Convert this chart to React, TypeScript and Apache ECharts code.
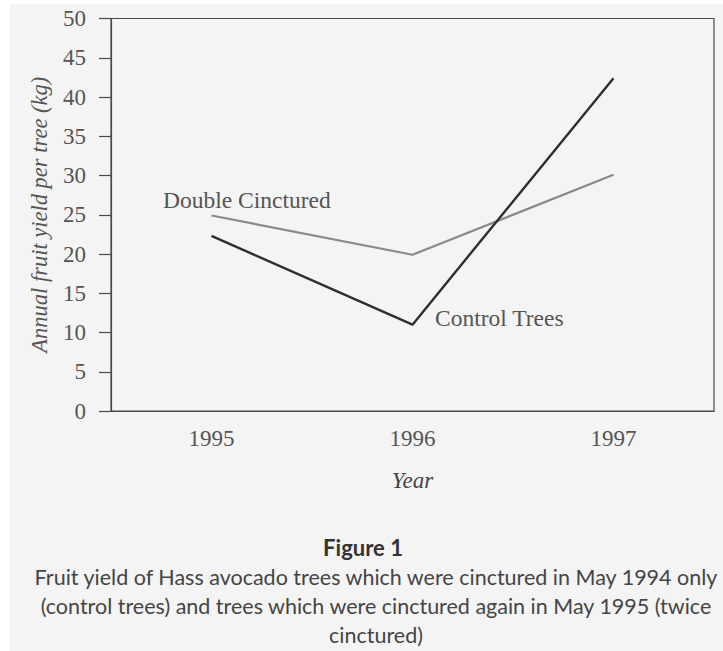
import React, { useEffect, useRef } from "react";
import * as echarts from "echarts";

const years = ["1995", "1996", "1997"];
const controlTrees = [22.3, 11.0, 42.4];
const doubleCinctured = [24.9, 19.9, 30.1];
const yTicks = { min: 0, max: 50, interval: 5 };
const captionTitle = "Figure 1";
const captionLines = [
  "Fruit yield of Hass avocado trees which were cinctured in May 1994 only",
  "(control trees) and trees which were cinctured again in May 1995 (twice",
  "cinctured)",
];

const SERIF = "'Liberation Serif', 'DejaVu Serif', serif";
const SANS = "Lato, 'Open Sans', sans-serif";

export default function App() {
  const ref = useRef<HTMLDivElement>(null);
  useEffect(() => {
    document.body.style.margin = "0";
    const chart = echarts.init(ref.current!, null, { renderer: "svg" });
    const axisColor = "#4a4a4a";
    chart.setOption({
      animation: false,
      backgroundColor: "#ffffff",
      grid: {
        left: 111,
        right: 9,
        top: 18.5,
        bottom: 240,
        show: true,
        borderColor: axisColor,
        borderWidth: 1.2,
        backgroundColor: "transparent",
      },
      xAxis: {
        type: "category",
        data: years,
        boundaryGap: true,
        name: "Year",
        nameLocation: "middle",
        nameGap: 58,
        nameTextStyle: { fontFamily: SERIF, fontStyle: "italic", fontSize: 23, color: "#444" },
        axisLine: { lineStyle: { color: axisColor, width: 1.2 } },
        axisTick: { alignWithLabel: true, length: 11, lineStyle: { color: axisColor, width: 1.2 } },
        axisLabel: { fontFamily: SERIF, fontSize: 23, color: "#555", margin: 16 },
        splitLine: { show: false },
      },
      yAxis: {
        type: "value",
        min: yTicks.min,
        max: yTicks.max,
        interval: yTicks.interval,
        name: "Annual fruit yield per tree (kg)",
        nameLocation: "middle",
        nameGap: 60,
        nameRotate: 90,
        nameTextStyle: { fontFamily: SERIF, fontStyle: "italic", fontSize: 22.5, color: "#555" },
        axisLine: { show: true, lineStyle: { color: axisColor, width: 1.2 } },
        axisTick: { show: true, length: 12, lineStyle: { color: axisColor, width: 1.2 } },
        axisLabel: { fontFamily: SERIF, fontSize: 23, color: "#555", margin: 25 },
        splitLine: { show: false },
      },
      series: [
        {
          name: "Double Cinctured",
          type: "line",
          data: doubleCinctured,
          symbol: "none",
          lineStyle: { color: "#8a8a8a", width: 2.2 },
          z: 2,
        },
        {
          name: "Control Trees",
          type: "line",
          data: controlTrees,
          symbol: "none",
          lineStyle: { color: "#2e2e2e", width: 2.4 },
          z: 3,
        },
      ],
      graphic: [
        {
          type: "rect",
          z: -10,
          silent: true,
          shape: { x: 10, y: 4, width: 713, height: 647 },
          style: { fill: "#f4f4f4" },
        },
        {
          type: "text",
          x: 163,
          y: 200,
          style: {
            text: "Double Cinctured",
            font: `23.5px ${SERIF}`,
            fill: "#555",
            verticalAlign: "middle",
          },
        },
        {
          type: "text",
          x: 435,
          y: 318,
          style: {
            text: "Control Trees",
            font: `23.5px ${SERIF}`,
            fill: "#555",
            verticalAlign: "middle",
          },
        },
        {
          type: "text",
          x: 363,
          y: 547,
          style: {
            text: captionTitle,
            font: `bold 22px ${SANS}`,
            fill: "#333",
            align: "center",
            verticalAlign: "middle",
          },
        },
        ...captionLines.map((line, i) => ({
          type: "text",
          x: 376,
          y: 576.5 + i * 29,
          style: {
            text: line,
            font: `21.5px ${SANS}`,
            fill: "#444",
            align: "center",
            verticalAlign: "middle",
          },
        })),
      ],
    });
    return () => chart.dispose();
  }, []);
  return <div ref={ref} style={{ width: 723, height: 651 }} />;
}
